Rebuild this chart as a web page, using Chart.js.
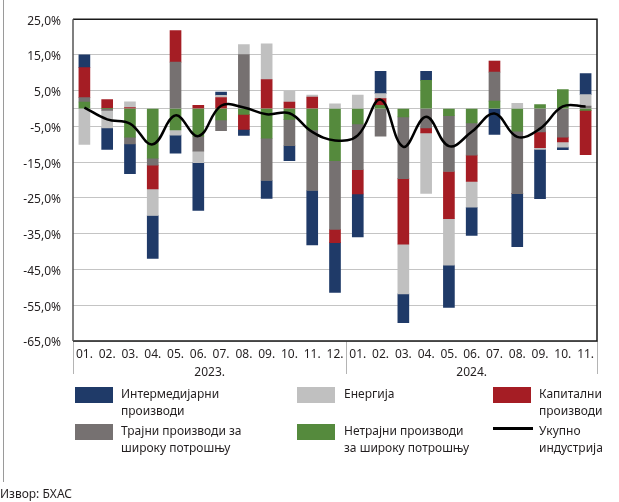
<!DOCTYPE html>
<html><head><meta charset="utf-8">
<script src="https://cdn.jsdelivr.net/npm/chart.js@4.4.1/dist/chart.umd.min.js"></script>
<style>
html,body{margin:0;padding:0;background:#fff;}
#wrap{position:relative;width:619px;height:502px;overflow:hidden;font-family:"Noto Sans",sans-serif;color:#231f20;}
canvas{position:absolute;left:0;top:0;}
.sw{position:absolute;width:38px;height:16px;}
.ln{position:absolute;width:40px;height:3px;background:#000;}
.lt{position:absolute;font-size:12px;line-height:16.5px;white-space:pre-line;}
#border{position:absolute;left:3px;top:0;width:1px;height:482px;background:#9a9a9a;}
#src{position:absolute;left:0;top:485px;font-size:12px;}
</style></head>
<body><div id="wrap"><div id="border"></div><canvas id="c" width="619" height="502"></canvas><div id="legend"></div><div id="src">Извор: БХАС</div></div>
<script>
// ---- data ----
const months = ['01.','02.','03.','04.','05.','06.','07.','08.','09.','10.','11.','12.',
                '01.','02.','03.','04.','05.','06.','07.','08.','09.','10.','11.'];
const years = ['2023.','2024.'];
const yearFirstIndex = [0, 12];
const yearLastIndex = [11, 22];

const nondurable = [1.85,0,-8.0,-13.9,-6.0,-7.7,-3.2,-1.6,-8.3,-3.0,-6.0,-14.6,
                    -4.3,0.9,-2.3,7.9,-2.0,-4.0,2.1,-6.3,1.1,5.3,-0.5];
const durable    = [1.2,-0.5,-1.9,-1.9,13.0,-4.2,-3.0,15.1,-11.8,-7.4,-16.9,-19.2,
                    -12.8,-7.7,-17.3,-5.4,-15.6,-9.0,8.1,-17.5,-6.5,-8.0,0.7];
const capital    = [8.4,2.5,0.3,-6.7,8.8,0.9,3.1,-4.2,8.1,1.85,3.2,-3.7,
                    -6.8,1.9,-18.3,-1.4,-13.2,-7.4,3.1,0,-4.4,-1.3,-12.4];
const energy     = [-10.0,-4.9,1.6,-7.4,-1.4,-3.2,0.6,2.8,10.0,3.0,0.6,1.3,
                    3.8,1.4,-13.9,-16.9,-13.0,-7.2,0,1.5,-0.5,-1.5,3.2];
const intermediate = [3.6,-6.0,-8.3,-12.0,-5.1,-13.4,0.9,-1.7,-5.0,-4.2,-15.2,-13.9,
                    -12.0,6.2,-8.1,2.5,-11.8,-7.9,-7.2,-14.8,-13.8,-0.7,5.9];
const total      = [0.3,-3.0,-4.2,-10.0,-1.9,-7.7,0.8,0.3,-1.6,-1.3,-6.5,-8.9,
                    -7.5,2.5,-10.7,-2.3,-10.5,-6.5,-1.4,-7.9,-5.6,0.6,0.6];

const names = {
  intermediate: 'Интермедијарни\nпроизводи',
  energy: 'Енергија',
  capital: 'Капитални\nпроизводи',
  durable: 'Трајни производи за\nшироку потрошњу',
  nondurable: 'Нетрајни производи\nза широку потрошњу',
  total: 'Укупно\nиндустрија'
};
const colors = {
  intermediate:'#1f3a68', energy:'#c0c0c0', capital:'#a51d24',
  durable:'#767171', nondurable:'#558a3d', total:'#000000'
};

// ---- chart ----
const FONT = {family:'"Noto Sans", sans-serif', size:12};
const TXT = '#231f20';

function bar(key, values){
  return {type:'bar', label:names[key], data:values, backgroundColor:colors[key],
          stack:'comp', order:1, barThickness:11, borderWidth:0};
}
const datasets = [
  bar('nondurable', nondurable),
  bar('durable', durable),
  bar('capital', capital),
  bar('energy', energy),
  bar('intermediate', intermediate),
  {type:'line', label:names.total, data:total, borderColor:colors.total, borderWidth:2.5,
   pointRadius:0, tension:0.4, fill:false, stack:'total', order:0}
];

const framePlugin = {
  id:'frame',
  afterDatasetsDraw(chart){
    const {ctx, chartArea:a, scales:{x}} = chart;
    ctx.save();
    // separators
    ctx.strokeStyle = '#b4b4b4'; ctx.lineWidth = 1;
    const seps = [a.left];
    for (let i=1;i<yearFirstIndex.length;i++){
      const k = yearFirstIndex[i];
      seps.push((x.getPixelForValue(k-1)+x.getPixelForValue(k))/2);
    }
    seps.push(a.right);
    seps.forEach(px=>{ctx.beginPath();ctx.moveTo(Math.round(px)+0.5,a.bottom);ctx.lineTo(Math.round(px)+0.5,a.bottom+33);ctx.stroke();});
    // year labels
    ctx.fillStyle = TXT; ctx.font = '12px "Noto Sans", sans-serif';
    ctx.textAlign='center'; ctx.textBaseline='middle';
    years.forEach((y,i)=>{
      const cx = (x.getPixelForValue(yearFirstIndex[i])+x.getPixelForValue(yearLastIndex[i]))/2;
      ctx.fillText(y, cx, a.bottom+32);
    });
    // frame
    ctx.lineWidth = 1.5; ctx.strokeStyle = '#1a1a1a';
    ctx.beginPath();
    ctx.moveTo(a.left, a.top); ctx.lineTo(a.right, a.top); ctx.lineTo(a.right, a.bottom); ctx.lineTo(a.left, a.bottom);
    ctx.stroke();
    ctx.strokeStyle = '#555'; ctx.beginPath(); ctx.moveTo(a.left, a.top); ctx.lineTo(a.left, a.bottom); ctx.stroke();
    ctx.restore();
  }
};

new Chart(document.getElementById('c'), {
  type:'bar',
  data:{labels:months, datasets},
  options:{
    responsive:false, animation:false,
    layout:{padding:{top:19, right:22, bottom:121, left:0}},
    plugins:{legend:{display:false}, tooltip:{enabled:false}},
    scales:{
      x:{stacked:true, offset:true,
         grid:{display:false, drawTicks:false}, border:{display:false},
         ticks:{font:FONT, color:TXT, padding:6, maxRotation:0, autoSkip:false},
         afterFit(s){s.height=40;}},
      y:{stacked:true, min:-65, max:25,
         grid:{color:'#c4c4c4', drawTicks:false, lineWidth:1}, border:{display:false},
         ticks:{stepSize:10, font:FONT, color:TXT, padding:12, labelOffset:2,
                callback:v => v===0 ? '' : v.toFixed(1).replace('.',',')+'%'},
         afterBuildTicks(s){ if(!s.ticks.some(t=>t.value===0)) s.ticks.push({value:0}); s.ticks.sort((p,q)=>p.value-q.value); },
         afterFit(s){s.width=73;}}
    }
  },
  plugins:[framePlugin]
});

// ---- legend (HTML) ----
const legendItems = [
  {key:'intermediate', col:0, row:0}, {key:'energy', col:1, row:0}, {key:'capital', col:2, row:0},
  {key:'durable', col:0, row:1}, {key:'nondurable', col:1, row:1}, {key:'total', col:2, row:1}
];
const colX = [75, 297, 493], textX = [121, 344, 539], rowY = [387, 424];
const lg = document.getElementById('legend');
legendItems.forEach(it=>{
  const m = document.createElement('div');
  if (it.key==='total'){ m.className='ln'; m.style.left=colX[it.col]+'px'; m.style.top=(rowY[it.row]+3)+'px'; }
  else { m.className='sw'; m.style.left=colX[it.col]+'px'; m.style.top=rowY[it.row]+'px'; m.style.background=colors[it.key]; }
  lg.appendChild(m);
  const t = document.createElement('div');
  t.className='lt'; t.style.left=textX[it.col]+'px'; t.style.top=(rowY[it.row]-1)+'px';
  t.textContent = names[it.key];
  lg.appendChild(t);
});
</script>
</body></html>
